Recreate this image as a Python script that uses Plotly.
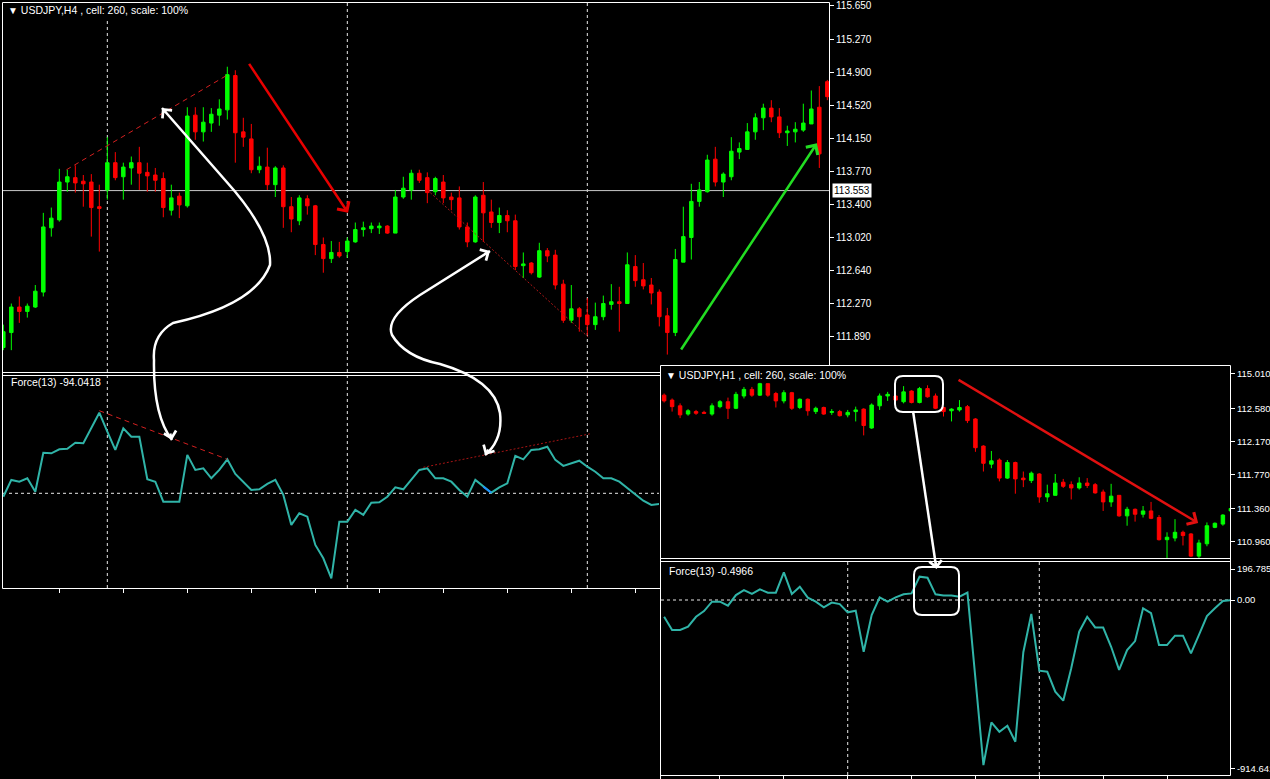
import plotly.graph_objects as go

W, H = 1270, 779

# ---------------- data: USDJPY H4 ----------------
h4_open = [111.77, 111.94, 112.23, 112.18, 112.23, 112.40, 113.13, 113.22, 113.65, 113.70,
           113.66, 113.65, 113.37, 113.56, 113.87, 113.71, 113.81, 113.87, 113.76, 113.73,
           113.69, 113.33, 113.49, 113.38, 114.41, 114.22, 114.32, 114.41, 114.47, 114.86,
           114.22, 114.14, 113.79, 113.82, 113.62, 113.81, 113.37, 113.21, 113.46, 113.38,
           112.94, 112.78, 112.85, 112.86, 112.97, 113.11, 113.12, 113.13, 113.15, 113.07,
           113.48, 113.56, 113.75, 113.70, 113.54, 113.65, 113.48, 113.47, 113.14, 112.97,
           113.50, 113.31, 113.19, 113.27, 113.21, 112.70, 112.73, 112.57, 112.87, 112.82,
           112.49, 112.08, 112.21, 112.14, 112.03, 112.12, 112.26, 112.29, 112.27, 112.69,
           112.54, 112.48, 112.40, 112.13, 111.94, 112.74, 113.02, 113.43, 113.54, 113.91,
           113.65, 113.71, 113.99, 114.02, 114.22, 114.38, 114.49, 114.39, 114.21, 114.22,
           114.24, 114.31, 114.50, 114.79]
h4_high = [112.03, 112.27, 112.35, 112.27, 112.48, 113.30, 113.36, 113.80, 113.79, 113.84,
           113.73, 113.74, 113.62, 114.16, 113.99, 113.87, 113.94, 114.05, 113.87, 113.81,
           113.76, 113.62, 113.53, 114.50, 114.50, 114.50, 114.49, 114.59, 114.96, 114.92,
           114.38, 114.31, 113.94, 114.04, 113.83, 113.84, 113.48, 113.50, 113.50, 113.39,
           113.02, 112.98, 112.97, 113.02, 113.19, 113.20, 113.19, 113.19, 113.16, 113.56,
           113.71, 113.79, 113.79, 113.76, 113.71, 113.73, 113.53, 113.60, 113.19, 113.50,
           113.65, 113.45, 113.36, 113.33, 113.28, 112.85, 112.74, 112.96, 112.90, 112.88,
           112.54, 112.48, 112.23, 112.33, 112.28, 112.36, 112.49, 112.46, 112.85, 112.82,
           112.73, 112.56, 112.43, 112.22, 112.89, 113.37, 113.63, 113.65, 113.96, 114.05,
           113.76, 114.16, 114.10, 114.32, 114.43, 114.54, 114.58, 114.49, 114.29, 114.33,
           114.54, 114.69, 114.74, 114.81]
h4_low = [111.74, 111.74, 112.05, 112.11, 112.22, 112.35, 113.03, 113.20, 113.54, 113.53,
          113.37, 113.03, 112.86, 113.45, 113.67, 113.45, 113.62, 113.56, 113.54, 113.54,
          113.25, 113.27, 113.24, 113.36, 114.13, 114.11, 114.22, 114.29, 114.36, 113.87,
          114.05, 113.75, 113.75, 113.56, 113.48, 113.13, 113.08, 113.16, 113.28, 112.82,
          112.62, 112.73, 112.79, 112.79, 112.96, 113.03, 113.07, 113.06, 113.06, 113.07,
          113.46, 113.45, 113.64, 113.41, 113.50, 113.41, 113.33, 113.11, 112.91, 112.96,
          112.97, 113.13, 113.07, 113.08, 112.65, 112.56, 112.60, 112.56, 112.74, 112.43,
          112.05, 112.05, 111.95, 111.91, 111.97, 112.08, 112.20, 111.95, 112.27, 112.46,
          112.43, 112.26, 112.01, 111.69, 111.90, 112.74, 112.77, 113.37, 113.53, 113.60,
          113.48, 113.67, 113.91, 114.02, 114.13, 114.24, 114.33, 114.15, 114.06, 114.10,
          114.22, 114.31, 113.81, 114.58]
h4_close = [111.95, 112.23, 112.18, 112.24, 112.41, 113.14, 113.24, 113.65, 113.71, 113.64,
            113.63, 113.36, 113.35, 113.87, 113.70, 113.82, 113.87, 113.75, 113.72, 113.67,
            113.36, 113.47, 113.39, 114.40, 114.22, 114.33, 114.42, 114.48, 114.87, 114.21,
            114.16, 113.79, 113.83, 113.62, 113.81, 113.37, 113.23, 113.47, 113.38, 112.94,
            112.78, 112.85, 112.81, 112.98, 113.11, 113.13, 113.15, 113.15, 113.07, 113.48,
            113.58, 113.75, 113.67, 113.53, 113.69, 113.47, 113.45, 113.14, 112.97, 113.48,
            113.30, 113.19, 113.27, 113.21, 112.69, 112.72, 112.62, 112.87, 112.81, 112.48,
            112.08, 112.21, 112.12, 112.03, 112.12, 112.27, 112.29, 112.27, 112.71, 112.53,
            112.47, 112.39, 112.12, 111.94, 112.77, 113.03, 113.43, 113.56, 113.90, 113.65,
            113.74, 114.00, 114.03, 114.22, 114.38, 114.49, 114.39, 114.21, 114.23, 114.25,
            114.32, 114.48, 113.97, 114.62]
h4_force = [-17, 67, 58, 75, 8, 203, 200, 220, 223, 253,
            250, 325, 403, 308, 217, 325, 283, 283, 70, 58,
            -42, -42, -42, 192, 117, 125, 75, 117, 170, 97,
            58, 17, 20, 47, 67, -8, -158, -100, -117, -258,
            -325, -425, -142, -142, -83, -108, -47, -45, -17, 30,
            20, 67, 117, 125, 75, 75, 58, 17, -17, 67,
            33, 3, 30, 50, 187, 170, 217, 220, 233, 167,
            137, 150, 163, 133, 108, 75, 75, 58, 25, -8,
            -37, -58, -53]
h4_price_ticks = [115.650, 115.270, 114.900, 114.520, 114.150, 113.770,
                  113.400, 113.020, 112.640, 112.270, 111.890]
h4_last_price = 113.553

# ---------------- data: USDJPY H1 ----------------
h1_open = [112.74, 112.68, 112.61, 112.51, 112.54, 112.53, 112.51, 112.60, 112.66, 112.58,
           112.73, 112.81, 112.74, 112.88, 112.76, 112.67, 112.77, 112.59, 112.69, 112.54,
           112.59, 112.53, 112.54, 112.50, 112.54, 112.57, 112.34, 112.61, 112.73, 112.73,
           112.66, 112.79, 112.65, 112.82, 112.73, 112.59, 112.55, 112.56, 112.60, 112.45,
           112.12, 111.90, 111.95, 111.73, 111.92, 111.73, 111.70, 111.78, 111.50, 111.52,
           111.68, 111.65, 111.61, 111.67, 111.65, 111.56, 111.44, 111.52, 111.27, 111.35,
           111.29, 111.33, 111.25, 110.98, 111.00, 111.07, 111.05, 110.78, 110.93, 111.13,
           111.17, 111.33]
h1_high = [112.76, 112.70, 112.64, 112.57, 112.56, 112.55, 112.64, 112.68, 112.71, 112.78,
           112.84, 112.84, 112.89, 112.88, 112.78, 112.80, 112.78, 112.70, 112.70, 112.60,
           112.60, 112.57, 112.56, 112.56, 112.60, 112.58, 112.64, 112.76, 112.78, 112.74,
           112.85, 112.80, 112.84, 112.86, 112.76, 112.60, 112.58, 112.68, 112.62, 112.46,
           112.13, 112.06, 111.97, 111.95, 111.93, 111.81, 111.81, 111.79, 111.65, 111.78,
           111.72, 111.69, 111.74, 111.73, 111.67, 111.59, 111.66, 111.52, 111.38, 111.36,
           111.39, 111.44, 111.28, 111.07, 111.23, 111.09, 111.06, 110.98, 111.19, 111.19,
           111.29, 111.38]
h1_low = [112.65, 112.54, 112.46, 112.49, 112.50, 112.51, 112.49, 112.58, 112.45, 112.57,
          112.70, 112.72, 112.73, 112.72, 112.59, 112.64, 112.56, 112.57, 112.49, 112.51,
          112.50, 112.50, 112.48, 112.47, 112.42, 112.25, 112.33, 112.56, 112.67, 112.67,
          112.64, 112.64, 112.64, 112.71, 112.57, 112.48, 112.42, 112.54, 112.40, 112.05,
          111.81, 111.85, 111.69, 111.72, 111.54, 111.62, 111.67, 111.43, 111.44, 111.52,
          111.61, 111.47, 111.59, 111.61, 111.54, 111.33, 111.38, 111.26, 111.15, 111.20,
          111.25, 111.23, 110.97, 110.75, 110.96, 110.91, 110.77, 110.75, 110.90, 111.12,
          111.15, 111.32]
h1_close = [112.67, 112.60, 112.50, 112.55, 112.52, 112.52, 112.61, 112.66, 112.58, 112.75,
            112.81, 112.74, 112.88, 112.74, 112.67, 112.77, 112.58, 112.69, 112.55, 112.58,
            112.51, 112.54, 112.49, 112.53, 112.56, 112.37, 112.62, 112.73, 112.75, 112.68,
            112.78, 112.65, 112.82, 112.72, 112.58, 112.54, 112.57, 112.59, 112.43, 112.10,
            111.91, 111.94, 111.73, 111.92, 111.72, 111.71, 111.79, 111.50, 111.54, 111.67,
            111.63, 111.61, 111.67, 111.64, 111.55, 111.44, 111.51, 111.27, 111.35, 111.29,
            111.33, 111.24, 110.98, 111.01, 111.07, 111.03, 110.78, 110.94, 111.15, 111.18,
            111.28, 111.36]
h1_force = [-91, -163, -163, -145, -91, -60, -9, -9, -31, 27,
            54, 33, 58, 40, 40, 150, 33, 72, 13, -9,
            -40, -14, -22, -67, -58, -281, -82, 14, -9, 14,
            31, 36, 127, 121, 31, 24, 24, 18, 40, -429,
            -897, -665, -716, -683, -770, -284, -76, -384, -390, -498,
            -547, -371, -172, -91, -149, -150, -254, -380, -272, -223,
            -45, -72, -245, -245, -194, -194, -290, -190, -87, -45,
            -5, -0.5]
h1_price_tickvals = [113.006, 112.58, 112.17, 111.77, 111.36, 110.96]
h1_price_ticktext = ["115.010", "112.580", "112.170", "111.770", "111.360", "110.960"]
h1_force_tickvals = [168.5, 0, -914.641]
h1_force_ticktext = ["196.7856", "0.00", "-914.641"]

# ---------------- helpers ----------------
def PX(x):
    return x / W


def PY(y):
    return 1 - y / H


def path(cmds):
    out = []
    for c, pts in cmds:
        s = c
        for i in range(0, len(pts), 2):
            s += "%.5f,%.5f " % (PX(pts[i]), PY(pts[i + 1]))
        out.append(s.strip())
    return " ".join(out)


def rrect(x0, y0, x1, y1, r):
    return path([("M", [x0 + r, y0]), ("L", [x1 - r, y0]), ("Q", [x1, y0, x1, y0 + r]),
                 ("L", [x1, y1 - r]), ("Q", [x1, y1, x1 - r, y1]), ("L", [x0 + r, y1]),
                 ("Q", [x0, y1, x0, y1 - r]), ("L", [x0, y0 + r]), ("Q", [x0, y0, x0 + r, y0])]) + " Z"


TEAL = "#30B4A8"
WHITE = "#FFFFFF"
GRID = dict(color="#E8E8E8", width=1, dash="3px,3px")
FONT = "Liberation Sans"

fig = go.Figure()

candle_style = dict(
    increasing=dict(line=dict(color="#00FF00", width=1), fillcolor="#00FF00"),
    decreasing=dict(line=dict(color="#FF0000", width=1), fillcolor="#FF0000"),
    whiskerwidth=0, hoverinfo="skip", showlegend=False)

fig.add_trace(go.Candlestick(x=list(range(len(h4_open))), open=h4_open, high=h4_high,
                             low=h4_low, close=h4_close, xaxis="x", yaxis="y", **candle_style))
fig.add_trace(go.Scatter(x=list(range(len(h4_force))), y=h4_force, xaxis="x2", yaxis="y2",
                         mode="lines", line=dict(color=TEAL, width=2), hoverinfo="skip",
                         showlegend=False))
fig.add_trace(go.Scatter(x=[60, 61], y=h4_force[60:62], xaxis="x2", yaxis="y2",
                         mode="lines", line=dict(color="#1E90FF", width=2), hoverinfo="skip",
                         showlegend=False))
fig.add_trace(go.Candlestick(x=list(range(len(h1_open))), open=h1_open, high=h1_high,
                             low=h1_low, close=h1_close, xaxis="x3", yaxis="y3", **candle_style))
fig.add_trace(go.Scatter(x=list(range(len(h1_force))), y=h1_force, xaxis="x4", yaxis="y4",
                         mode="lines", line=dict(color=TEAL, width=2), hoverinfo="skip",
                         showlegend=False))

ax_common = dict(showgrid=False, zeroline=False, showline=False, fixedrange=True,
                 automargin=False)


def ytick_style(size):
    return dict(ticks="outside", ticklen=4, tickcolor=WHITE, tickwidth=1,
                tickfont=dict(family=FONT, size=size, color=WHITE), side="right")


fig.update_layout(
    width=W, height=H, margin=dict(l=0, r=0, t=0, b=0),
    paper_bgcolor="black", plot_bgcolor="black", template="none",
    showlegend=False, boxgap=0.38,
    xaxis=dict(domain=[PX(3), PX(829)], range=[-0.04, 103.21], anchor="y",
               showticklabels=False, ticks="", rangeslider=dict(visible=False), **ax_common),
    yaxis=dict(domain=[PY(372), PY(3)], range=[111.492, 115.684], anchor="x",
               tickvals=h4_price_ticks, ticktext=["%.3f" % v for v in h4_price_ticks],
               **ytick_style(10), **ax_common),
    xaxis2=dict(domain=[PX(3), PX(659)], range=[-0.04, 81.96], anchor="y2",
                showticklabels=False, ticks="outside", ticklen=4, tickcolor=WHITE,
                tickvals=list(range(7, 82, 8)), **ax_common),
    yaxis2=dict(domain=[PY(588), PY(376)], range=[-473.5, 586.5], anchor="x2",
                showticklabels=False, ticks="", **ax_common),
    xaxis3=dict(domain=[PX(661), PX(1230)], range=[-0.39, 70.89], anchor="y3",
                showticklabels=False, ticks="", rangeslider=dict(visible=False), **ax_common),
    yaxis3=dict(domain=[PY(558), PY(366)], range=[110.757, 113.095], anchor="x3",
                tickvals=h1_price_tickvals, ticktext=h1_price_ticktext,
                **ytick_style(9.5), **ax_common),
    xaxis4=dict(domain=[PX(661), PX(1230)], range=[-0.39, 70.89], anchor="y4",
                showticklabels=False, ticks="outside", ticklen=4, tickcolor=WHITE,
                tickvals=list(range(7, 71, 8)), **ax_common),
    yaxis4=dict(domain=[PY(775), PY(561)], range=[-951, 212], anchor="x4",
                tickvals=h1_force_tickvals, ticktext=h1_force_ticktext,
                **ytick_style(9.5), **ax_common),
)

shapes = []


def pline(x0, y0, x1, y1, color=WHITE, width=1):
    shapes.append(dict(type="line", xref="paper", yref="paper", x0=PX(x0), y0=PY(y0),
                       x1=PX(x1), y1=PY(y1), line=dict(color=color, width=width), layer="above"))


# frames of left (H4) window
pline(2.5, 2.5, 829.5, 2.5)
pline(2.5, 2.5, 2.5, 588.5)
pline(829.5, 2.5, 829.5, 365)
pline(2.5, 372.5, 660, 372.5)
pline(2.5, 375.5, 660, 375.5)
pline(2.5, 588.5, 660, 588.5)
# frames of right (H1) window
pline(660.5, 365.5, 1230.5, 365.5)
pline(660.5, 365.5, 660.5, 779)
pline(1230.5, 365.5, 1230.5, 775.5)
pline(661, 558.5, 1230.5, 558.5)
pline(661, 561.5, 1230.5, 561.5)
pline(661, 775.5, 1230.5, 775.5)

# dashed grid separators (period separators)
for xv in [13, 43, 73]:
    shapes.append(dict(type="line", xref="x", yref="y domain", x0=xv, x1=xv, y0=0,
                       y1=0.955 if xv == 13 else 1, line=GRID, layer="below"))
    shapes.append(dict(type="line", xref="x2", yref="y2 domain", x0=xv, x1=xv, y0=0, y1=1,
                       line=GRID, layer="below"))
for xv in [23, 47]:
    shapes.append(dict(type="line", xref="x3", yref="y3 domain", x0=xv, x1=xv, y0=0, y1=1,
                       line=GRID, layer="below"))
    shapes.append(dict(type="line", xref="x4", yref="y4 domain", x0=xv, x1=xv, y0=0, y1=1,
                       line=GRID, layer="below"))
shapes.append(dict(type="line", xref="x2 domain", yref="y2", x0=0, x1=1, y0=0, y1=0,
                   line=GRID, layer="below"))
shapes.append(dict(type="line", xref="x4 domain", yref="y4", x0=0, x1=1, y0=0, y1=0,
                   line=GRID, layer="below"))
# last price line
shapes.append(dict(type="line", xref="x domain", yref="y", x0=0, x1=1, y0=h4_last_price,
                   y1=h4_last_price, line=dict(color="#C8C8C8", width=1), layer="below"))

# trend lines
shapes.append(dict(type="line", xref="x", yref="y", x0=7.9, y0=113.79, x1=27.9, y1=114.86,
                   line=dict(color="#D42020", width=1, dash="5px,4px")))
shapes.append(dict(type="line", xref="x", yref="y", x0=53, y0=113.56, x1=73.1, y1=111.89,
                   line=dict(color="#B01818", width=1, dash="2px,2px")))
shapes.append(dict(type="line", xref="x2", yref="y2", x0=12, y0=413, x1=28, y1=170,
                   line=dict(color="#D42020", width=1, dash="5px,4px")))
shapes.append(dict(type="line", xref="x2", yref="y2", x0=52.5, y0=130, x1=73.3, y1=297,
                   line=dict(color="#A81515", width=1, dash="2px,2px")))

# white curved arrows and boxes
curve1 = path([("M", [162, 108]), ("L", [225, 180]), ("Q", [272, 232, 270, 265]),
               ("Q", [255, 305, 173, 323]), ("Q", [152, 335, 154, 360]),
               ("Q", [153, 415, 172, 440])])
curve2 = path([("M", [490, 251]), ("L", [420, 295]), ("Q", [385, 318, 392, 335]),
               ("Q", [405, 357, 440, 364]), ("Q", [495, 380, 500, 413]),
               ("Q", [503, 440, 485, 455])])
curve3 = path([("M", [913, 411]), ("L", [936, 566])])
for c in [curve1, curve2, curve3]:
    shapes.append(dict(type="path", xref="paper", yref="paper", path=c,
                       line=dict(color=WHITE, width=2.5), layer="above"))
for b in [(895, 376, 943, 412), (914, 567, 959, 615)]:
    shapes.append(dict(type="path", xref="paper", yref="paper", path=rrect(*b, 8),
                       line=dict(color=WHITE, width=2), layer="above"))

fig.update_layout(shapes=shapes)

ann = []
# straight arrows (data coordinates)
ann.append(dict(x=43.1, y=113.30, ax=30.6, ay=115.01, xref="x", yref="y", axref="x", ayref="y",
                text="", showarrow=True, arrowhead=4, arrowsize=1.1, arrowwidth=2.5,
                arrowcolor="#E80000"))
ann.append(dict(x=101.7, y=114.09, ax=84.6, ay=111.73, xref="x", yref="y", axref="x",
                ayref="y", text="", showarrow=True, arrowhead=4, arrowsize=1.1, arrowwidth=2.5,
                arrowcolor="#22DD22"))
ann.append(dict(x=66.9, y=111.183, ax=36.7, ay=112.937, xref="x3", yref="y3", axref="x3",
                ayref="y3", text="", showarrow=True, arrowhead=4, arrowsize=1.1, arrowwidth=2.5,
                arrowcolor="#E01010"))
# heads of the white curved arrows
for (tx, ty, dx, dy) in [(162, 108, 5, 6), (172, 440, -2, -8), (490, 251, -7, 4),
                         (485, 455, 4, -7), (936.5, 569, -1, -8)]:
    ann.append(dict(x=PX(tx), y=PY(ty), xref="paper", yref="paper", ax=dx, ay=dy,
                    text="", showarrow=True, arrowhead=4, arrowsize=1.1, arrowwidth=2.2,
                    arrowcolor=WHITE))

# texts
tri = "<span style='font-size:10px'>▼</span>"
for (x, y, t) in [(6, 10.5, tri + " USDJPY,H4 , cell: 260, scale: 100%"),
                  (9, 381.5, "Force(13) -94.0418"),
                  (664, 374.5, tri + " USDJPY,H1 , cell: 260, scale: 100%"),
                  (667, 570.5, "Force(13) -0.4966")]:
    ann.append(dict(x=PX(x), y=PY(y), xref="paper", yref="paper", xanchor="left",
                    yanchor="middle", text=t, showarrow=False,
                    font=dict(family=FONT, size=10.5, color=WHITE)))
ann.append(dict(x=PX(832), y=h4_last_price, xref="paper", yref="y", xanchor="left",
                yanchor="middle", text="%.3f" % h4_last_price, showarrow=False,
                bgcolor=WHITE, borderpad=1, font=dict(family=FONT, size=10, color="black")))

fig.update_layout(annotations=ann)

fig.write_html("out.html", config={"displayModeBar": False},
               post_script="document.body.style.margin='0';"
                           "document.body.style.overflow='hidden';")
